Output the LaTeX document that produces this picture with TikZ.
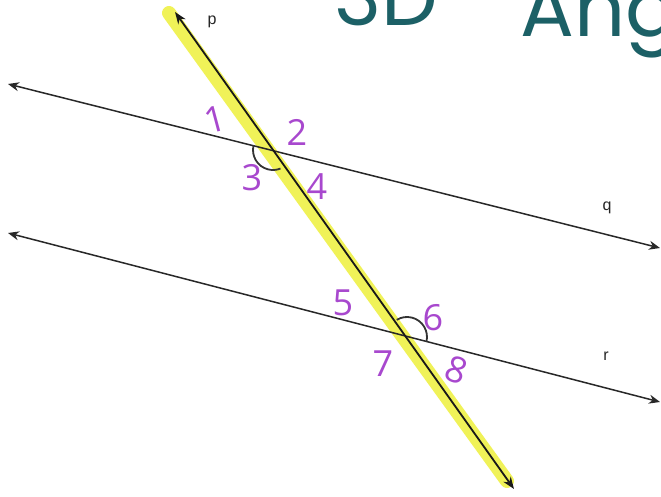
\documentclass[tikz,border=0pt]{standalone}
\usepackage{fontspec}
\setmainfont{Liberation Sans}
\newfontfamily\handfont{Open Sans}
\newfontfamily\titlefont{Poppins}
\usetikzlibrary{arrows.meta}
\definecolor{hlyellow}{RGB}{240,242,88}
\definecolor{numpurple}{RGB}{168,72,206}
\definecolor{titleteal}{RGB}{28,96,102}
\definecolor{linegray}{RGB}{40,40,40}
\begin{document}
\begin{tikzpicture}[x=1pt,y=1pt,
  parline/.style={linegray, line width=1.5pt,
    {Stealth[length=11pt,width=9pt]}-{Stealth[length=11pt,width=9pt]}},
  transline/.style={black!90, line width=1.8pt,
    {Stealth[length=12pt,width=9pt]}-{Stealth[length=12pt,width=9pt]}},
  highlight/.style={hlyellow, line width=14pt, line cap=round},
  anglenum/.style={numpurple, font=\handfont\fontsize{36}{36}\selectfont, inner sep=0pt},
  linelabel/.style={black!85, font=\fontsize{16}{16}\selectfont, inner sep=0pt},
  anglearc/.style={black!80, line width=1.8pt},
  titletext/.style={titleteal, font=\titlefont\fontsize{80}{80}\selectfont, inner sep=0pt}]
\useasboundingbox (0,0) rectangle (661,-497);
\fill[white] (0,0) rectangle (661,-497);
% title (clipped at the top edge, as in the reference)
\begin{scope}
  \clip (0,0) rectangle (661,-497);
  \node[titletext, anchor=base west] (title3d) at (334,-26) {3D};
  \node[titletext, anchor=base west] (titleang) at (520,-37) {Angles};
\end{scope}
% coordinates
\coordinate (qL) at (8,-84);
\coordinate (qR) at (660,-248);
\coordinate (rL) at (8,-233);
\coordinate (rR) at (660,-402);
\coordinate (pT) at (175,-12);
\coordinate (pB) at (514,-489);
\coordinate (hlT) at (169,-13);
\coordinate (hlB) at (507,-481);
\coordinate (X1) at (273,-150);
\coordinate (X2) at (407,-337);
% highlight
\draw[highlight] (hlT) -- (hlB);
% lines
\draw[parline] (qL) -- (qR);
\draw[parline] (rL) -- (rR);
\draw[transline] (pT) -- (pB);
% angle marks
\draw[anglearc] (X1) ++(166:20) arc[start angle=166, end angle=292, radius=20];
\draw[anglearc] (X2) ++(121:20) arc[start angle=121, end angle=-14, radius=20];
% line labels
\node[linelabel] (lp) at (212,-22) {p};
\node[linelabel] (lq) at (607,-208) {q};
\node[linelabel] (lr) at (606,-356) {r};
% angle numbers
\node[anglenum, rotate=15] (n1) at (215,-119) {1};
\node[anglenum] (n2) at (297,-132) {2};
\node[anglenum] (n3) at (252,-178) {3};
\node[anglenum] (n4) at (317,-187) {4};
\node[anglenum] (n5) at (343,-303) {5};
\node[anglenum] (n6) at (433,-318) {6};
\node[anglenum] (n7) at (383,-364) {7};
\node[anglenum, rotate=-20] (n8) at (457,-370) {8};
\end{tikzpicture}
\end{document}
